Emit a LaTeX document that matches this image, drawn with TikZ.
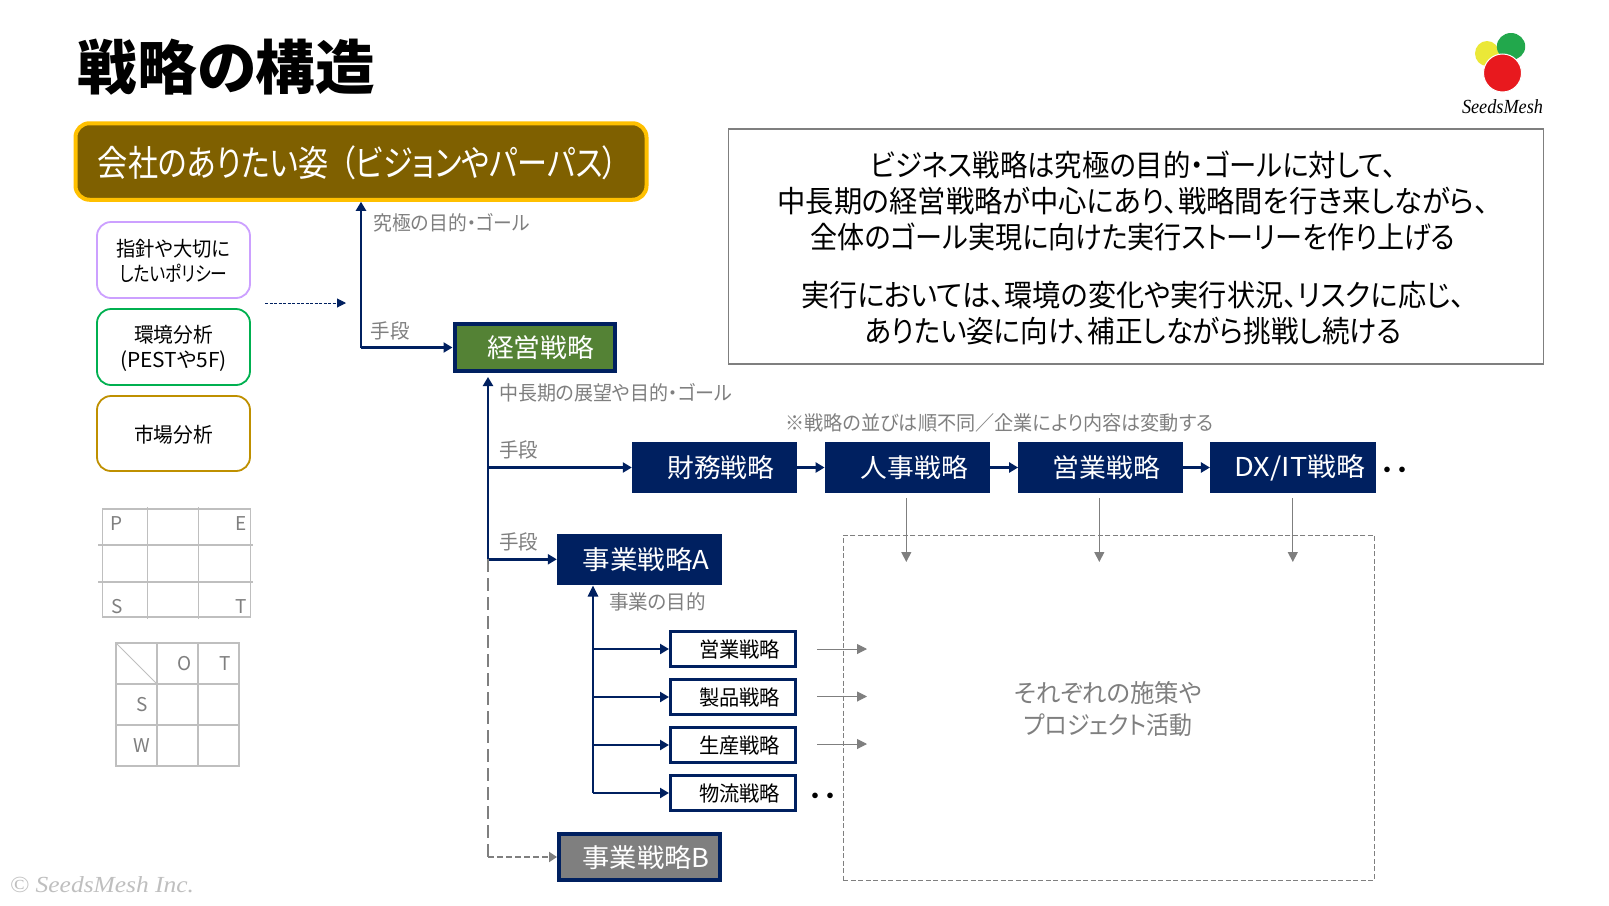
\documentclass[tikz,border=0pt]{standalone}
\usepackage{fontspec}
\usepackage{graphicx}
\setmainfont{Noto Sans CJK JP}[RawFeature=+palt]
\newfontfamily\scriptish{Liberation Serif}
\usetikzlibrary{arrows.meta}
\definecolor{navy}{HTML}{002060}
\definecolor{midgray}{HTML}{7F7F7F}
\definecolor{lightgray}{HTML}{BFBFBF}
\newcommand\ft[2]{\resizebox{#1}{\height}{#2}}
\newcommand\fb[2]{\raisebox{-1pt}[\height][\depth]{\resizebox{#1}{\height}{#2}}}
\newcommand\fsz[1]{\fontsize{#1}{#1}\selectfont}
\tikzset{
  x=1pt,y=-1pt,
  txt/.style={inner sep=0pt,outer sep=0pt,align=center},
  graylbl/.style={txt,text=midgray,font=\fsz{20}},
  softbox/.style={draw,line width=1.8pt,rounded corners=14pt,fill=white,minimum width=153pt,inner sep=0pt,align=center,
     font=\fontsize{20.5}{25}\selectfont},
  navybox/.style={fill=navy,text=white,draw=none,inner sep=0pt,minimum width=165pt,minimum height=51pt,font=\fsz{26}},
  smallbox/.style={draw=navy,line width=3pt,fill=white,inner sep=0pt,minimum width=125pt,minimum height=35pt,font=\fsz{21}},
  navyarrow/.style={draw=navy,line width=2.5pt,-{Triangle[length=9pt,width=10pt]}},
  grayarrow/.style={draw=midgray,line width=1pt,-{Triangle[length=10pt,width=10pt]}},
  tableline/.style={draw=lightgray,line width=1.5pt},
  tabletxt/.style={txt,text=midgray,font=\fsz{19}},
}
\begin{document}
\begin{tikzpicture}
\useasboundingbox (0,0) rectangle (1609,905);
\fill[white] (0,0) rectangle (1609,905);

% title
\node[txt,font=\fsz{59}\bfseries] (title) at (226.5,67) {\ft{297.5pt}{戦略の構造}};

% logo
\fill[fill={rgb,255:red,235;green,232;blue,55}] (1487,53.5) ellipse [x radius=12,y radius=12.5];
\fill[fill={rgb,255:red,34;green,168;blue,76}] (1511,46.5) ellipse [x radius=14.2,y radius=13.5];
\draw[white,line width=1pt,fill={rgb,255:red,232;green,25;blue,30}] (1502.5,73) ellipse [x radius=19,y radius=19];
\node[txt,font=\scriptish\itshape\fsz{20}] (logotext) at (1502.5,107) {\ft{81pt}{SeedsMesh}};

% vision
\node[draw={rgb,255:red,255;green,192;blue,0},fill={rgb,255:red,127;green,96;blue,0},line width=4pt,rounded corners=14pt,
  minimum width=571pt,minimum height=76.5pt,inner sep=0pt,text=white,font=\fsz{36}] (vision) at (361,161.5)
  {\hspace*{-6pt}\raisebox{-1pt}[\height][\depth]{\ft{520pt}{会社のありたい姿\hspace{14pt}（ビジョンやパーパス）}}};

% left boxes
\node[softbox,draw={rgb,255:red,204;green,160;blue,255},minimum height=76pt] (policy) at (173.5,260)
  {\fb{114pt}{指針や大切に}\\\fb{108pt}{したいポリシー}};
\node[softbox,draw={rgb,255:red,0;green,176;blue,80},minimum height=76pt] (env) at (173.5,347)
  {\fb{79pt}{環境分析}\\\fb{107pt}{(PESTや5F)}};
\node[softbox,draw={rgb,255:red,191;green,144;blue,0},minimum height=75pt] (market) at (173.5,433.5)
  {\fb{79pt}{市場分析}};

% PEST table
\draw[tableline] (102.5,509) rectangle (250.5,617);
\draw[tableline] (147.5,507) -- (147.5,619) (198.5,507) -- (198.5,619);
\draw[tableline] (98,545) -- (252.5,545) (98,582) -- (252.5,582);
\node[tabletxt] (pestp) at (117,524) {P};
\node[tabletxt] (peste) at (241,524) {E};
\node[tabletxt] (pests) at (117,607) {S};
\node[tabletxt] (pestt) at (241,607) {T};

% SWOT table
\draw[tableline,line width=2pt] (116,643) rectangle (239,766);
\draw[tableline,line width=2pt] (157,643) -- (157,766) (198,643) -- (198,766);
\draw[tableline,line width=2pt] (116,684) -- (239,684) (116,725) -- (239,725);
\draw[draw=lightgray,line width=.8pt] (116,643) -- (157,684);
\node[tabletxt] (swoto) at (184.5,664) {O};
\node[tabletxt] (swott) at (225,664) {T};
\node[tabletxt] (swots) at (142,705) {S};
\node[tabletxt] (swotw) at (142,746) {W};

% message panel
\node[draw=midgray,line width=1.2pt,minimum width=815pt,minimum height=235pt,inner sep=0pt] (panel) at (1136,246.5) {};
\node[txt,font=\fontsize{30}{36}\selectfont] (message) at (1133,248)
  {\ft{526pt}{ビジネス戦略は究極の目的・ゴールに対して、}\\
   \ft{711pt}{中長期の経営戦略が中心にあり、戦略間を行き来しながら、}\\
   \ft{645pt}{全体のゴール実現に向けた実行ストーリーを作り上げる}\\[22pt]
   \ft{664pt}{実行においては、環境の変化や実行状況、リスクに応じ、}\\
   \ft{537pt}{ありたい姿に向け、補正しながら挑戦し続ける}};

% strategy nodes
\node[draw=navy,fill={rgb,255:red,84;green,130;blue,53},line width=4pt,text=white,inner sep=0pt,
  minimum width=160.5pt,minimum height=47pt,font=\fsz{26}] (keiei) at (534.75,347.5)
  {\hspace*{11.5pt}\ft{107pt}{経営戦略}};
\node[navybox] (zaimu) at (714.5,467.5) {\hspace*{12.5pt}\ft{107pt}{財務戦略}};
\node[navybox] (jinji) at (907.3,467.5) {\hspace*{14pt}\ft{107pt}{人事戦略}};
\node[navybox,minimum width=164.6pt] (eigyo) at (1100.6,467.5) {\hspace*{12pt}\ft{107.4pt}{営業戦略}};
\node[navybox,minimum width=165.7pt] (dxit) at (1293,467.5) {\hspace*{13.5pt}\ft{130.5pt}{DX/IT戦略}};
\node[navybox,minimum height=50.7pt] (jigyoa) at (639.5,559.3) {\hspace*{13pt}\ft{127pt}{事業戦略A}};
\node[draw=navy,fill=midgray,line width=4pt,text=white,inner sep=0pt,minimum width=161pt,minimum height=46pt,font=\fsz{26}]
  (jigyob) at (639.5,857) {\hspace*{13pt}\fb{127pt}{事業戦略B}};

\node[smallbox] (s1) at (733,649) {\hspace*{13pt}\ft{81pt}{営業戦略}};
\node[smallbox] (s2) at (733,697) {\hspace*{13pt}\ft{81pt}{製品戦略}};
\node[smallbox] (s3) at (733,745) {\hspace*{13pt}\ft{81pt}{生産戦略}};
\node[smallbox] (s4) at (733,793) {\hspace*{13pt}\ft{81pt}{物流戦略}};

% labels
\node[graylbl] (l1) at (451.75,223) {\ft{156pt}{究極の目的・ゴール}};
\node[graylbl] (l2) at (390,331) {\ft{39pt}{手段}};
\node[graylbl] (l3) at (615.5,393) {\ft{233pt}{中長期の展望や目的・ゴール}};
\node[graylbl] (l4) at (518.5,450) {\ft{39pt}{手段}};
\node[graylbl] (l5) at (518.5,542) {\ft{39pt}{手段}};
\node[graylbl] (l6) at (657.5,602) {\ft{97pt}{事業の目的}};
\node[graylbl,text=gray] (l7) at (999.5,423) {\ft{428pt}{※戦略の並びは順不同／企業により内容は変動する}};

\node[txt,font=\fsz{20}\bfseries] (more1) at (1395,472) {・\hspace*{5pt}・};
\node[txt,font=\fsz{20}\bfseries] (more2) at (823,798) {・\hspace*{5pt}・};

% activity box
\node[draw=midgray,line width=1pt,dash pattern=on 5pt off 2.5pt,minimum width=531pt,minimum height=345pt,inner sep=0pt] (activity) at (1108.8,707.5) {};
\node[txt,text=midgray,font=\fontsize{25}{32}\selectfont] (activitytext) at (1108,709)
  {\ft{188.5pt}{それぞれの施策や}\\\ft{168.7pt}{プロジェクト活動}};

% helper coordinates
\coordinate (c1) at (361,347.5);
\coordinate (dotA) at (265,303);
\coordinate (dotB) at (346,303);
\coordinate (keieiIn) at (488,377);
\coordinate (jz) at (488,467.5);
\coordinate (ja) at (488,559.3);
\coordinate (jb) at (488,857);
\coordinate (bIn) at (593,793);
\coordinate (aIn) at (593,585.5);
\coordinate (j1) at (593,649);
\coordinate (j2) at (593,697);
\coordinate (j3) at (593,745);
\coordinate (d1a) at (906.3,498); \coordinate (d1b) at (906.3,562);
\coordinate (d2a) at (1099.3,498); \coordinate (d2b) at (1099.3,562);
\coordinate (d3a) at (1292.8,498); \coordinate (d3b) at (1292.8,562);
\coordinate (r1a) at (817,649); \coordinate (r1b) at (867,649);
\coordinate (r2a) at (817,696.5); \coordinate (r2b) at (867,696.5);
\coordinate (r3a) at (817,744); \coordinate (r3b) at (867,744);

% connectors
\draw[navyarrow] (c1) -- (vision.south);
\draw[navyarrow] (c1) -- (keiei.west);
\draw[draw=navy,line width=1pt,dash pattern=on 3pt off 1.5pt,-{Triangle[length=9pt,width=9pt,fill=navy]}] (dotA) -- (dotB);
\draw[navyarrow] (ja) -- (keieiIn);
\draw[navyarrow] (jz) -- (zaimu.west);
\draw[navyarrow] (ja) -- (jigyoa.west);
\draw[navyarrow] (zaimu.east) -- (jinji.west);
\draw[navyarrow] (jinji.east) -- (eigyo.west);
\draw[navyarrow] (eigyo.east) -- (dxit.west);
\draw[draw=midgray,line width=1.5pt,dash pattern=on 13pt off 6pt] (ja) -- (jb);
\draw[draw=midgray,line width=2.5pt,dash pattern=on 6pt off 3pt,-{Triangle[length=8pt,width=10pt,fill=midgray]}] (jb) -- (jigyob.west);
\draw[navyarrow,-{Triangle[length=11pt,width=10pt]}] (bIn) -- (aIn);
\draw[navyarrow] (j1) -- (s1.west);
\draw[navyarrow] (j2) -- (s2.west);
\draw[navyarrow] (j3) -- (s3.west);
\draw[navyarrow] (bIn) -- (s4.west);
\draw[grayarrow] (d1a) -- (d1b);
\draw[grayarrow] (d2a) -- (d2b);
\draw[grayarrow] (d3a) -- (d3b);
\draw[grayarrow] (r1a) -- (r1b);
\draw[grayarrow] (r2a) -- (r2b);
\draw[grayarrow] (r3a) -- (r3b);

% copyright
\node[txt,text=lightgray,font=\scriptish\itshape\fsz{23}] (copyright) at (102,885) {\ft{184pt}{© SeedsMesh Inc.}};
\end{tikzpicture}
\end{document}
